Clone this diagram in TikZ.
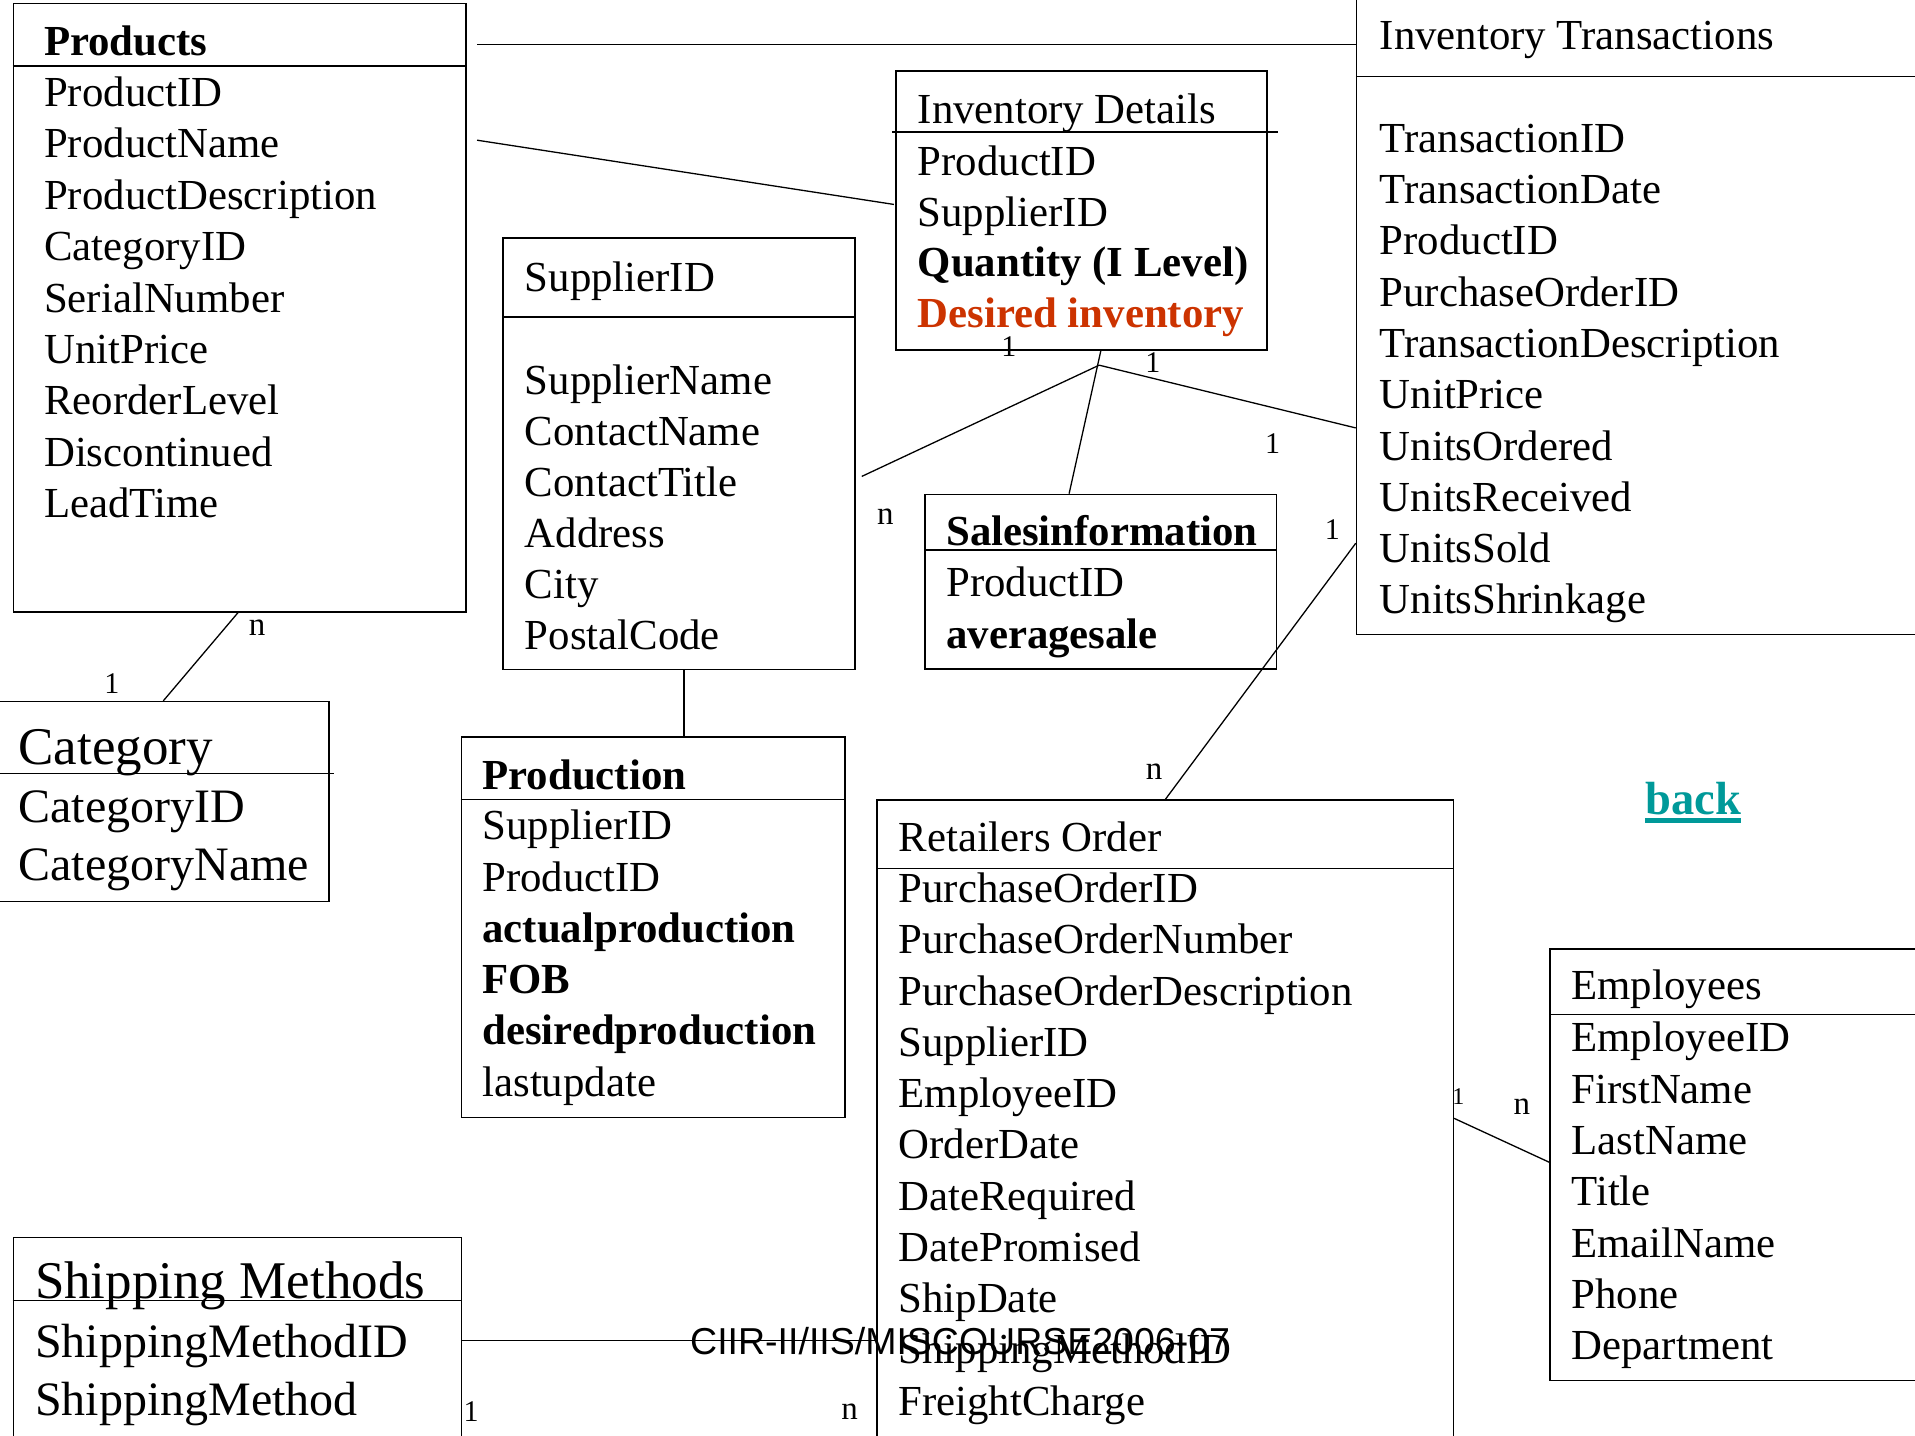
\documentclass[tikz,border=0pt]{standalone}
\usepackage{fontspec}
\setmainfont{Liberation Serif}
\newfontfamily\footsans{Liberation Sans}
\usetikzlibrary{fit,calc}
\definecolor{desred}{RGB}{204,51,0}
\definecolor{linkteal}{RGB}{0,153,153}
\begin{document}
\begin{tikzpicture}[x=1.2213pt,y=-1.2213pt,
  tbl/.style={draw, line width=1.5pt, inner sep=0pt, fit={#1}},
  hdr/.style={line width=1.5pt},
  conn/.style={line width=1.3pt},
  ttl/.style={anchor=base west, inner sep=0pt, font=\fontsize{42.8}{51}\selectfont},
  row/.style={anchor=base west, inner sep=0pt, font=\fontsize{42.8}{51}\selectfont},
  bigttl/.style={anchor=base west, inner sep=0pt, font=\fontsize{53}{63}\selectfont},
  bigrow/.style={anchor=base west, inner sep=0pt, font=\fontsize{48}{57}\selectfont},
  one/.style={inner sep=0pt, font=\fontsize{30}{36}\selectfont},
  ennl/.style={inner sep=0pt, font=\fontsize{33}{40}\selectfont}]
\useasboundingbox (0,0) rectangle (1568,1175);
\fill[white] (0,0) rectangle (1568,1175);
\clip (0,0) rectangle (1568,1175);

% ---------- tables ----------
\node[tbl={(11,3)(381.5,501)}] (prod) {};
\draw[hdr] ($(prod.north west)+(0,51.5)$) -- ($(prod.north east)+(0,51.5)$);
\node[ttl,font=\fontsize{42.8}{51}\selectfont\bfseries] (prod-t) at (36,45.2) {Products};
\foreach \t [count=\i from 0] in {ProductID,ProductName,ProductDescription,CategoryID,SerialNumber,UnitPrice,ReorderLevel,Discontinued,LeadTime}
  \node[row] (prod-\i) at (36,{87.3+42.05*\i}) {\t};

\node[tbl={(733.5,58.2)(1037.3,286.5)}] (idet) {};
\draw[hdr] ($(idet.north west)+(-2.5,50.4)$) -- ($(idet.north east)+(8.7,50.4)$);
\node[ttl] (idet-t) at (751.3,101.5) {Inventory Details};
\node[row] (idet-0) at (751.3,143.6) {ProductID};
\node[row] (idet-1) at (751.3,185.2) {SupplierID};
\node[row,font=\fontsize{42.8}{51}\selectfont\bfseries] (idet-2) at (751.3,226.8) {Quantity (I Level)};
\node[row,font=\fontsize{42.8}{51}\selectfont\bfseries,text=desred] (idet-3) at (751.3,268.4) {Desired inventory};

\node[tbl={(1110.7,-10)(1600,519.4)}] (itr) {};
\draw[hdr] ($(itr.north west)+(0,73.1)$) -- ($(itr.north east)+(0,73.1)$);
\node[ttl] (itr-t) at (1129.6,40.3) {Inventory Transactions};
\foreach \t [count=\i from 0] in {TransactionID,TransactionDate,ProductID,PurchaseOrderID,TransactionDescription,UnitPrice,UnitsOrdered,UnitsReceived,UnitsSold,UnitsShrinkage}
  \node[row] (itr-\i) at (1129.6,{124.8+41.98*\i}) {\t};

\node[tbl={(412,194.7)(700,548)}] (sup) {};
\draw[hdr] ($(sup.north west)+(0,65.3)$) -- ($(sup.north east)+(0,65.3)$);
\node[ttl] (sup-t) at (429.6,238.3) {SupplierID};
\foreach \t [count=\i from 0] in {SupplierName,ContactName,ContactTitle,Address,City,PostalCode}
  \node[row] (sup-\i) at (429.6,{322.8+41.8*\i}) {\t};

\node[tbl={(757.3,404.8)(1045.3,547.6)}] (sales) {};
\draw[hdr] ($(sales.north west)+(0,46.2)$) -- ($(sales.north east)+(0,46.2)$);
\node[ttl,font=\fontsize{42.8}{51}\selectfont\bfseries] (sales-t) at (774.6,446.8) {Salesinformation};
\node[row] (sales-0) at (774.6,488.6) {ProductID};
\node[row,font=\fontsize{42.8}{51}\selectfont\bfseries] (sales-1) at (774.6,530.8) {averagesale};

\node[tbl={(377.8,603.3)(692,914.8)}] (prodn) {};
\draw[hdr] ($(prodn.north west)+(0,52.1)$) -- ($(prodn.north east)+(0,52.1)$);
\node[ttl,font=\fontsize{42.8}{51}\selectfont\bfseries] (prodn-t) at (394.9,646.3) {Production};
\foreach \t [count=\i from 0] in {SupplierID,ProductID,{\bfseries actualproduction},{\bfseries FOB},{\bfseries desiredproduction},lastupdate}
  \node[row] (prodn-\i) at (394.9,{687.7+41.94*\i}) {\t};

\node[tbl={(-10,574.5)(269.5,738.3)}] (cat) {};
\draw[hdr] ($(cat.north west)+(0,59.3)$) -- ($(cat.north east)+(3.5,59.3)$);
\node[bigttl] (cat-t) at (15,626) {Category};
\node[bigrow] (cat-0) at (15,673.8) {CategoryID};
\node[bigrow] (cat-1) at (15,721.2) {CategoryName};

\node[tbl={(11,1013.3)(377.8,1200)}] (ship) {};
\draw[hdr] ($(ship.north west)+(0,52)$) -- ($(ship.north east)+(0,52)$);
\node[bigttl] (ship-t) at (28.5,1063.4) {Shipping Methods};
\node[bigrow] (ship-0) at (28.5,1111.5) {ShippingMethodID};
\node[bigrow] (ship-1) at (28.5,1158.8) {ShippingMethod};

\node[tbl={(718,655)(1190,1200)}] (ret) {};
\draw[hdr] ($(ret.north west)+(0,56.7)$) -- ($(ret.north east)+(0,56.7)$);
\node[ttl] (ret-t) at (735.6,697.6) {Retailers Order};
\foreach \t [count=\i from 0] in {PurchaseOrderID,PurchaseOrderNumber,PurchaseOrderDescription,SupplierID,EmployeeID,OrderDate,DateRequired,DatePromised,ShipDate,ShippingMethodID,FreightCharge}
  \node[row] (ret-\i) at (735.6,{739+41.98*\i}) {\t};

\node[tbl={(1269,777.2)(1600,1130.4)}] (emp) {};
\draw[hdr] ($(emp.north west)+(0,54)$) -- ($(emp.north east)+(0,54)$);
\node[ttl] (emp-t) at (1286.6,818.6) {Employees};
\foreach \t [count=\i from 0] in {EmployeeID,FirstName,LastName,Title,EmailName,Phone,Department}
  \node[row] (emp-\i) at (1286.6,{861.2+42.05*\i}) {\t};

% ---------- relationships ----------
\draw[conn] ($(prod.north east)+(8.5,33.8)$) coordinate (k1) -- (k1 -| itr.west);
\draw[conn] ($(prod.north east)+(8.5,112.4)$) -- ($(idet.north west)+(-1,109.8)$);
\draw[conn] ($(prod.south west)+(184.5,0)$) -- ($(cat.north west)+(144.3,0)$);
\draw[conn] ($(sup.south west)+(148.7,0)$) coordinate (k2) -- (k2 |- prodn.north);
\draw[conn] ($(idet.south west)+(168.5,0)$) -- ($(sales.north west)+(118.7,0)$);
\coordinate (jn) at (900,299);
\draw[conn] (jn) -- ($(sup.north east)+(5,196)$);
\draw[conn] (jn) -- ($(itr.north west)+(0,361)$);
\draw[conn] ($(itr.north west)+(0,455.4)$) -- ($(ret.north west)+(236.9,0)$);
\draw[conn] ($(ship.north east)+(0,84.7)$) coordinate (k3) -- (k3 -| ret.west);
\draw[conn] ($(ret.north east)+(0,261.3)$) -- ($(emp.north west)+(0,175)$);

% ---------- cardinalities ----------
\node[ennl] (c1) at (210.5,514) {n};
\node[one] (c2) at (91.7,560) {1};
\node[one] (c3) at (826,284) {1};
\node[one] (c4) at (944,297) {1};
\node[one] (c5) at (1042,363) {1};
\node[ennl] (c6) at (725,423) {n};
\node[one] (c7) at (1091,434) {1};
\node[ennl] (c8) at (945,631.7) {n};
\node[one] (c9) at (385.8,1156) {1};
\node[ennl] (c10) at (695.6,1156) {n};
\node[inner sep=0pt,font=\fontsize{24}{29}\selectfont] (c11) at (1194,897.8) {1};
\node[ennl] (c12) at (1246,906.4) {n};

% ---------- link and footer ----------
\node[anchor=base west,inner sep=0pt,font=\fontsize{46.5}{55}\selectfont\bfseries,text=linkteal] (back) at (1347,666.5) {back};
\draw[linkteal,line width=4.7pt] (back.base west |- 0,672) -- (back.base east |- 0,672);
\node[anchor=base west,inner sep=0pt,font=\footsans\fontsize{37.5}{45}\selectfont] (foot) at (565,1109) {CIIR-II/IIS/MISCOURSE2006-07};
\end{tikzpicture}
\end{document}
